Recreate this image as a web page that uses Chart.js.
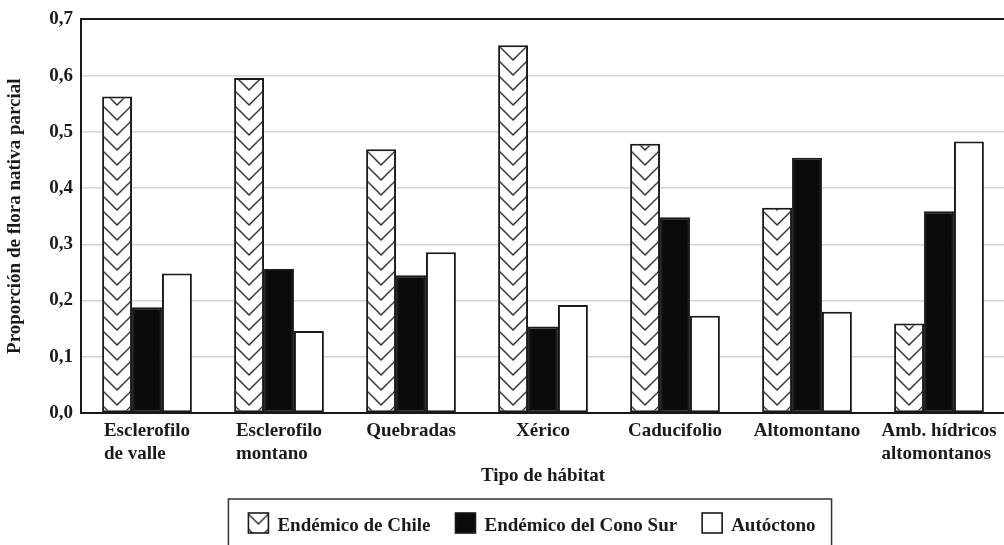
<!DOCTYPE html>
<html>
<head>
<meta charset="utf-8">
<script src="https://cdn.jsdelivr.net/npm/chart.js@4/dist/chart.umd.min.js"></script>
<style>
  html, body { margin: 0; padding: 0; background: #fff; overflow: hidden; }
  #wrap { width: 1010px; height: 545px; }
</style>
</head>
<body>
<div id="wrap"><canvas id="chart" width="1010" height="545"></canvas></div>
<script>
// habitat types (multi-line labels)
const categories = [
  ['Esclerofilo', 'de valle'],
  ['Esclerofilo', 'montano'],
  ['Quebradas'],
  ['Xérico'],
  ['Caducifolio'],
  ['Altomontano'],
  ['Amb. hídricos', 'altomontanos']
];
const seriesNames = ['Endémico de Chile', 'Endémico del Cono Sur', 'Autóctono'];
const endemicoChile = [0.563, 0.596, 0.469, 0.654, 0.479, 0.365, 0.159];
const endemicoConoSur = [0.188, 0.256, 0.245, 0.154, 0.348, 0.454, 0.359];
const autoctono = [0.248, 0.146, 0.286, 0.192, 0.173, 0.180, 0.483];
const yTitle = 'Proporción de flora nativa parcial';
const xTitle = 'Tipo de hábitat';

const FONT = '"Liberation Serif", "Times New Roman", serif';
const INK = '#1a1a1a';
const catPct = 0.68;

// chevron hatch tile
const tile = document.createElement('canvas');
tile.width = 30; tile.height = 15;
(function () {
  const t = tile.getContext('2d');
  t.fillStyle = '#fff';
  t.fillRect(0, 0, 30, 15);
  t.strokeStyle = '#2a2a2a';
  t.lineWidth = 1.4;
  t.beginPath();
  t.moveTo(0, 0); t.lineTo(15, 15); t.lineTo(30, 0);
  t.moveTo(0, -15); t.lineTo(15, 0); t.lineTo(30, -15);
  t.stroke();
})();
const patCtx = document.createElement('canvas').getContext('2d');

function hatchAt(x, y) {
  const p = patCtx.createPattern(tile, 'repeat');
  p.setTransform(new DOMMatrix().translate(x, y || 0));
  return p;
}

function hatchFill(ctx) {
  if (ctx.type !== 'data' || !ctx.chart.scales.x) return hatchAt(0, 0);
  const sc = ctx.chart.scales.x;
  const catW = sc.width / categories.length;
  const left = sc.getPixelForValue(ctx.dataIndex) - catW * catPct / 2;
  return hatchAt(left, 0);
}

const labelsAndLegend = {
  id: 'labelsAndLegend',
  afterDraw(chart) {
    const ctx = chart.ctx;
    const area = chart.chartArea;
    const sc = chart.scales.x;
    ctx.save();
    ctx.fillStyle = INK;
    ctx.font = 'bold 19px ' + FONT;
    ctx.textBaseline = 'alphabetic';

    // category labels, lines left aligned inside a centered block
    categories.forEach((lines, i) => {
      const cx = sc.getPixelForValue(i);
      const w = Math.max(...lines.map(l => ctx.measureText(l).width));
      ctx.textAlign = 'left';
      lines.forEach((l, k) => ctx.fillText(l, cx - w / 2, area.bottom + 23 + k * 23));
    });

    // axis title
    ctx.textAlign = 'center';
    ctx.fillText(xTitle, (area.left + area.right) / 2, area.bottom + 68);

    // legend box
    const fills = ['hatch', '#0a0a0a', '#ffffff'];
    const box = 20, gapIcon = 9, gapItem = 25;
    const widths = seriesNames.map(n => ctx.measureText(n).width);
    const content = widths.reduce((a, b) => a + b, 0) + seriesNames.length * (box + gapIcon) + gapItem * (seriesNames.length - 1);
    const boxW = content + 36;
    const boxLeft = 530 - boxW / 2;
    const boxTop = area.bottom + 86;
    ctx.strokeStyle = '#333';
    ctx.lineWidth = 1.5;
    ctx.strokeRect(boxLeft, boxTop, boxW, 80);

    let x = boxLeft + 20;
    const iconTop = boxTop + 14;
    seriesNames.forEach((n, i) => {
      ctx.fillStyle = fills[i] === 'hatch' ? hatchAt(x - 5, iconTop - 4) : fills[i];
      ctx.fillRect(x, iconTop, box, box);
      ctx.strokeStyle = INK;
      ctx.lineWidth = 1.6;
      ctx.strokeRect(x, iconTop, box, box);
      x += box + gapIcon;
      ctx.fillStyle = INK;
      ctx.textAlign = 'left';
      ctx.fillText(n, x, boxTop + 32);
      x += widths[i] + gapItem;
    });
    ctx.restore();
  }
};

new Chart(document.getElementById('chart').getContext('2d'), {
  type: 'bar',
  data: {
    labels: categories,
    datasets: [
      { label: seriesNames[0], data: endemicoChile, backgroundColor: hatchFill },
      { label: seriesNames[1], data: endemicoConoSur, backgroundColor: '#0a0a0a' },
      { label: seriesNames[2], data: autoctono, backgroundColor: '#ffffff' }
    ]
  },
  options: {
    responsive: false,
    animation: false,
    devicePixelRatio: 1,
    layout: { padding: { top: 17, right: 5, bottom: 132, left: 0 } },
    datasets: {
      bar: {
        categoryPercentage: catPct,
        barPercentage: 1,
        borderColor: INK,
        borderWidth: 2,
        borderSkipped: false
      }
    },
    plugins: {
      legend: { display: false },
      tooltip: { enabled: false }
    },
    scales: {
      x: {
        grid: { display: false, drawTicks: false },
        ticks: { display: false },
        border: { display: true, color: INK, width: 2 },
        afterFit: s => { s.height = 0; }
      },
      y: {
        min: 0,
        max: 0.7,
        ticks: {
          stepSize: 0.1,
          padding: 8,
          color: INK,
          font: { family: FONT, size: 19, weight: 'bold' },
          callback: v => v.toFixed(1).replace('.', ',')
        },
        grid: {
          drawTicks: false,
          color: c => Math.abs(c.tick.value - 0.7) < 1e-6 ? INK : '#d4d4d4',
          lineWidth: c => Math.abs(c.tick.value - 0.7) < 1e-6 ? 2 : 1.5
        },
        border: { display: true, color: INK, width: 2 },
        title: {
          display: true,
          text: yTitle,
          color: INK,
          font: { family: FONT, size: 19, weight: 'bold' },
          padding: { top: 4, bottom: 0 }
        },
        afterFit: s => { s.width = 81; }
      }
    }
  },
  plugins: [labelsAndLegend]
});
</script>
</body>
</html>
